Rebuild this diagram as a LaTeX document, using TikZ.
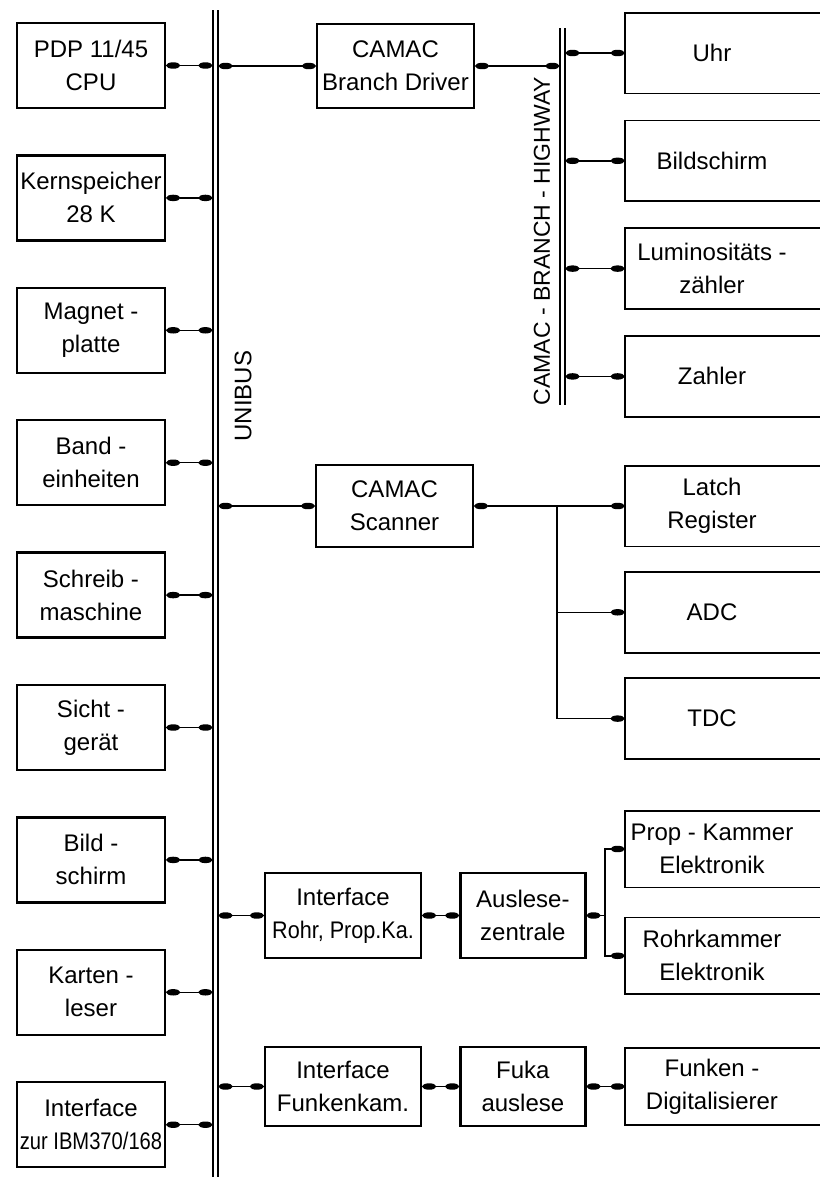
\documentclass[tikz,border=0pt]{standalone}
\usepackage{fontspec}
\setmainfont{Liberation Sans}
\usetikzlibrary{arrows.meta, positioning}

\newcommand{\narrow}[2][0.85]{\scalebox{#1}[1]{#2}}

\begin{document}
\begin{tikzpicture}[
        x=0.5pt, y=-0.5pt,
        font=\fontsize{12}{16.5}\selectfont,
        box/.style={rectangle, draw, line width=1.2pt, align=center, inner sep=1pt},
        unit/.style={box, minimum width=74pt, minimum height=42.5pt},
        ctrl/.style={box, minimum width=78.5pt, minimum height=42pt},
        iface/.style={box, minimum width=78pt, minimum height=41pt},
        reader/.style={box, minimum width=62.5pt, minimum height=41pt},
        module/.style={rectangle, align=center, inner sep=1pt, minimum width=87pt, minimum height=40pt},
        frame/.style={line width=0.9pt},
        wire/.style={draw, line width=0.7pt},
        blob/.tip={Ellipse[length=7pt, width=3.2pt]},
        plug/.style={wire, blob-blob},
        plugstart/.style={wire, blob-},
        plugend/.style={wire, -blob},
        busline/.style={double, line width=0.7pt, double distance=1.8pt}
    ]
        \useasboundingbox (0,0) rectangle (820,1180);

        % Unibus
        \coordinate (ubtop) at (215.5,10);
        \coordinate (ubbot) at (215.5,1177);
        \coordinate (ubl) at (212.4,0);
        \coordinate (ubr) at (218.6,0);
        \draw[busline] (ubtop) -- (ubbot);
        \node[rotate=90] (unibuslabel) at (243,396) {UNIBUS};

        % Branch highway
        \coordinate (hwtop) at (562.5,28);
        \coordinate (hwbot) at (562.5,405);
        \coordinate (hwl) at (559.4,0);
        \coordinate (hwr) at (565.6,0);
        \draw[busline] (hwtop) -- (hwbot);
        \node[rotate=90, font=\fontsize{11.5}{14}\selectfont] (hwlabel) at (542,241) {CAMAC - BRANCH - HIGHWAY};

        % Rechner und Peripherie
        \node[unit] (cpu) at (91,65.5) {PDP 11/45\\CPU};
        \node[unit, below=22.5pt of cpu] (kern) {Kernspeicher\\28 K};
        \node[unit, below=22.5pt of kern] (magnet) {Magnet -\\platte};
        \node[unit, below=22.5pt of magnet] (band) {Band -\\einheiten};
        \node[unit, below=22.5pt of band] (schreib) {Schreib -\\maschine};
        \node[unit, below=22.5pt of schreib] (sicht) {Sicht -\\gerät};
        \node[unit, below=22.5pt of sicht] (bild) {Bild -\\schirm};
        \node[unit, below=22.5pt of bild] (karten) {Karten -\\leser};
        \node[unit, below=22.5pt of karten] (ibm) {Interface\\\narrow[0.84]{zur IBM370/168}};

        \foreach \u in {cpu,kern,magnet,band,schreib,sicht,bild,karten,ibm}
            \draw[plug] (\u.east) -- (\u.east -| ubl);

        % CAMAC
        \node[ctrl] (driver) at (395.5,66) {CAMAC\\Branch Driver};
        \node[ctrl, minimum height=41pt] (scanner) at (394.5,506) {CAMAC\\Scanner};

        \draw[plug] (driver.west -| ubr) -- (driver.west);
        \draw[plug] (scanner.west -| ubr) -- (scanner.west);
        \draw[plug] (driver.east) -- (driver.east -| hwl);

        \node[module] (uhr) at (712,53) {Uhr};
        \node[module, below=13.5pt of uhr] (schirm) {Bildschirm};
        \node[module, below=13.5pt of schirm] (lumi) {Luminositäts -\\zähler};
        \node[module, below=13.5pt of lumi] (zahler) {Zahler};

        \foreach \m in {uhr,schirm,lumi,zahler}
            \draw[plug] (\m.west -| hwr) -- (\m.west);

        \node[module] (latch) at (712,506) {Latch\\Register};
        \node[module, below=12.75pt of latch] (adc) {ADC};
        \node[module, below=12.75pt of adc] (tdc) {TDC};

        \coordinate (scanfork) at (557,0);
        \draw[plug] (scanner.east) -- (latch.west);
        \draw[plugend] (scanner.east -| scanfork) |- (tdc.west);
        \draw[plugend] (scanfork |- adc.west) -- (adc.west);

        % Kammerauslese
        \node[iface, minimum height=42.5pt] (ifrohr) at (343,915.5) {Interface\\\narrow[0.9]{Rohr, Prop.Ka.}};
        \node[reader, minimum height=42.5pt, right=18.5pt of ifrohr] (auslese) {Auslese-\\zentrale};
        \node[iface, minimum height=39.5pt] (iffunk) at (343,1086.5) {Interface\\Funkenkam.};
        \node[reader, minimum height=39.5pt, right=18.5pt of iffunk] (fuka) {Fuka\\auslese};

        \node[module, minimum height=38pt] (prop) at (712,849) {Prop - Kammer\\Elektronik};
        \node[module, minimum height=38pt, below=15pt of prop] (rohr) {Rohrkammer\\Elektronik};
        \node[module, minimum height=38pt] (digit) at (712,1086.5) {Funken -\\Digitalisierer};

        \draw[plug] (ifrohr.west -| ubr) -- (ifrohr.west);
        \draw[plug] (iffunk.west -| ubr) -- (iffunk.west);
        \draw[plug] (ifrohr.east) -- (auslese.west);
        \draw[plug] (iffunk.east) -- (fuka.west);
        \draw[plug] (fuka.east) -- (digit.west);

        \coordinate (auslfork) at (605,0);
        \draw[plugstart] (auslese.east) -- (auslese.east -| auslfork);
        \draw[plugend] (auslese.east -| auslfork) |- (prop.west);
        \draw[plugend] (auslese.east -| auslfork) |- (rohr.west);

        % open frames of the CAMAC modules
        \coordinate (rim) at (824,0);
        \foreach \m in {uhr,schirm,lumi,zahler,latch,adc,tdc,prop,rohr,digit}
            \draw[frame] (\m.north east -| rim) -- (\m.north west) -- (\m.south west) -- (\m.south east -| rim);

    \end{tikzpicture}
\end{document}
